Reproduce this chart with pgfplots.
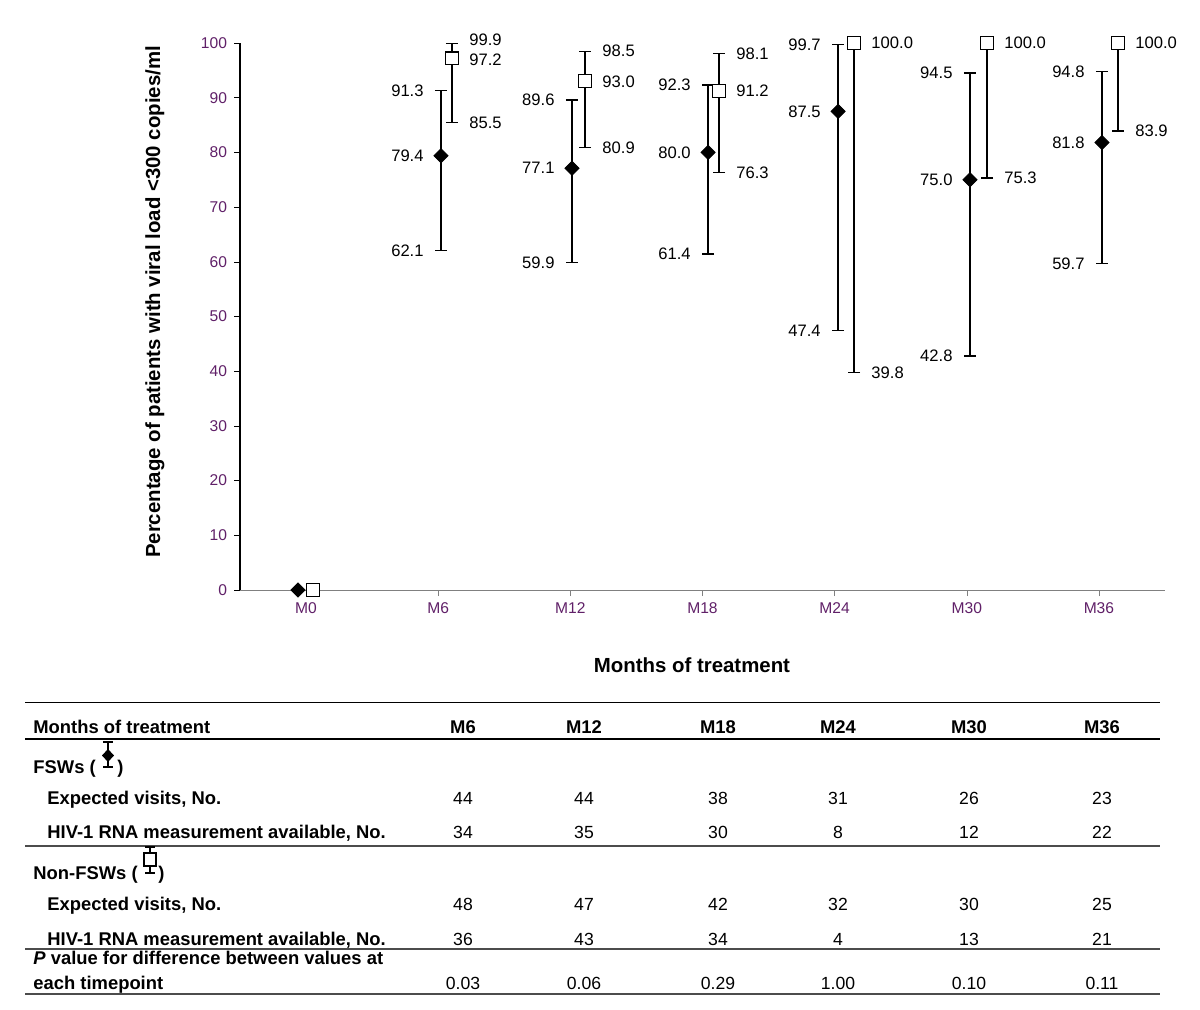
\documentclass[border=0pt]{standalone}
\usepackage{fontspec}
\setmainfont{Liberation Sans}
\usepackage{pgfplots}
\pgfplotsset{compat=1.18}
\definecolor{ticklab}{RGB}{96,32,104}
\newcommand{\tb}{\fontsize{9.2}{11}\selectfont\bfseries}
\newcommand{\tn}{\fontsize{8.8}{10.5}\selectfont}
\begin{document}
\begin{tikzpicture}
\begin{axis}[
  at={(120pt,-295pt)}, anchor=south west,
  scale only axis, width=462.5pt, height=273.5pt,
  xmin=-0.5, xmax=6.5, ymin=0, ymax=100,
  axis x line=bottom, axis y line=left,
  axis line style={-},
  x axis line style={gray},
  y axis line style={black, line width=0.6pt},
  xtick={0,...,6},
  xticklabels={M0,M6,M12,M18,M24,M30,M36},
  ytick={0,10,...,100},
  tick align=outside, major tick length=3pt,
  xtick style={gray}, ytick style={black},
  tick label style={font=\fontsize{7.8}{9}\selectfont, text=ticklab},
  /pgf/number format/assume math mode=true,
  clip=false,
  error bars/error bar style={line width=0.65pt, black},
  error bars/error mark options={rotate=90, line width=0.65pt, mark size=3pt, black},
]
% FSWs (diamonds)
\addplot[only marks, mark=square*, mark size=2.5pt,
  mark options={rotate=45, fill=black, draw=black},
  error bars/.cd, y dir=both, y explicit]
coordinates {
  (1.021,79.4) += (0,11.9) -= (0,17.3)
  (2.012,77.1) += (0,12.5) -= (0,17.2)
  (3.042,80.0) += (0,12.3) -= (0,18.6)
  (4.026,87.5) += (0,12.2) -= (0,40.1)
  (5.024,75.0) += (0,19.5) -= (0,32.2)
  (6.023,81.8) += (0,13.0) -= (0,22.1)
};
% Non-FSWs (squares)
\addplot[only marks, mark=square*, mark size=3.2pt,
  mark options={fill=white, draw=black, line width=0.6pt},
  error bars/.cd, y dir=both, y explicit]
coordinates {
  (1.104,97.2) += (0,2.7) -= (0,11.7)
  (2.111,93.0) += (0,5.5) -= (0,12.1)
  (3.125,91.2) += (0,6.9) -= (0,14.9)
  (4.147,100.0) += (0,0) -= (0,60.2)
  (5.153,100.0) += (0,0) -= (0,24.7)
  (6.144,100.0) += (0,0) -= (0,16.1)
};
% baseline M0
\addplot[only marks, mark=square*, mark size=2.5pt,
  mark options={rotate=45, fill=black, draw=black}]
coordinates {(-0.061,0)};
\addplot[only marks, mark=square*, mark size=3.2pt,
  mark options={fill=white, draw=black, line width=0.6pt}]
coordinates {(0.052,0)};
% labels left of diamonds
\addplot[only marks, mark=none, point meta=explicit symbolic, nodes near coords,
  every node near coord/.append style={anchor=east, xshift=-8.5pt, inner sep=0pt,
    font=\fontsize{8.3}{10}\selectfont}]
coordinates {
  (1.021,91.3) [91.3] (1.021,79.4) [79.4] (1.021,62.1) [62.1]
  (2.012,89.6) [89.6] (2.012,77.1) [77.1] (2.012,59.9) [59.9]
  (3.042,92.3) [92.3] (3.042,80.0) [80.0] (3.042,61.4) [61.4]
  (4.026,99.7) [99.7] (4.026,87.5) [87.5] (4.026,47.4) [47.4]
  (5.024,94.5) [94.5] (5.024,75.0) [75.0] (5.024,42.8) [42.8]
  (6.023,94.8) [94.8] (6.023,81.8) [81.8] (6.023,59.7) [59.7]
};
% labels right of squares
\addplot[only marks, mark=none, point meta=explicit symbolic, nodes near coords,
  every node near coord/.append style={anchor=west, xshift=8.5pt, inner sep=0pt,
    font=\fontsize{8.3}{10}\selectfont}]
coordinates {
  (1.104,100.6) [99.9] (1.104,96.9) [97.2] (1.104,85.5) [85.5]
  (2.111,98.5) [98.5] (2.111,93.0) [93.0] (2.111,80.9) [80.9]
  (3.125,98.1) [98.1] (3.125,91.2) [91.2] (3.125,76.3) [76.3]
  (4.147,100.0) [100.0] (4.147,39.8) [39.8]
  (5.153,100.0) [100.0] (5.153,75.3) [75.3]
  (6.144,100.0) [100.0] (6.144,83.9) [83.9]
};
\end{axis}
\begin{scope}[x=0.5pt, y=-0.5pt]
\path (0,0) rectangle (1200,1010);
% axis titles
\node[font=\fontsize{10.2}{12}\selectfont\bfseries] at (692,665) {Months of treatment};
\node[font=\fontsize{10.2}{12}\selectfont\bfseries, rotate=90] at (155,302)
  {Percentage of patients with viral load <300 copies/ml};
% table rules
\draw[line width=0.5pt] (25,702) -- (1160,702);
\draw[line width=0.6pt] (25,739) -- (1160,739);
\draw[line width=0.9pt, black!70] (25,846) -- (1160,846);
\draw[line width=0.9pt, black!70] (25,949) -- (1160,949);
\draw[line width=0.9pt, black!70] (25,994) -- (1160,994);
% row labels
\tikzset{rl/.style={anchor=base west, inner sep=0pt, font=\tb},
         cv/.style={anchor=base, inner sep=0pt, font=\tn}}
\node[rl] at (33,733) {Months of treatment};
\node[rl] at (33,773) {FSWs (};
\node[rl] at (117,773) {)};
\node[rl] at (47,804) {Expected visits, No.};
\node[rl] at (47,838) {HIV-1 RNA measurement available, No.};
\node[rl] at (33,879) {Non-FSWs (};
\node[rl] at (158,879) {)};
\node[rl] at (47,910) {Expected visits, No.};
\node[rl] at (47,945) {HIV-1 RNA measurement available, No.};
\node[rl] at (33,964) {\textit{P} value for difference between values at};
\node[rl] at (33,989) {each timepoint};
% legend glyphs
\draw[line width=0.6pt] (108,742) -- (108,767) (103,742) -- (113,742) (103,767) -- (113,767);
\fill (108,749) -- (114,755.5) -- (108,762) -- (102,755.5) -- cycle;
\draw[line width=0.6pt] (150,847) -- (150,873) (145,847) -- (155,847) (145,873) -- (155,873);
\filldraw[fill=white, line width=0.6pt] (144,853) rectangle (156,866);
% column headers and values
\foreach \x/\h/\a/\b/\c/\d/\p in {
  463/M6/44/34/48/36/0.03,
  584/M12/44/35/47/43/0.06,
  718/M18/38/30/42/34/0.29,
  838/M24/31/8/32/4/1.00,
  969/M30/26/12/30/13/0.10,
  1102/M36/23/22/25/21/0.11}{
  \node[rl, anchor=base] at (\x,733) {\h};
  \node[cv] at (\x,804) {\a};
  \node[cv] at (\x,838) {\b};
  \node[cv] at (\x,910) {\c};
  \node[cv] at (\x,945) {\d};
  \node[cv] at (\x,989) {\p};
}
\end{scope}
\end{tikzpicture}
\end{document}
